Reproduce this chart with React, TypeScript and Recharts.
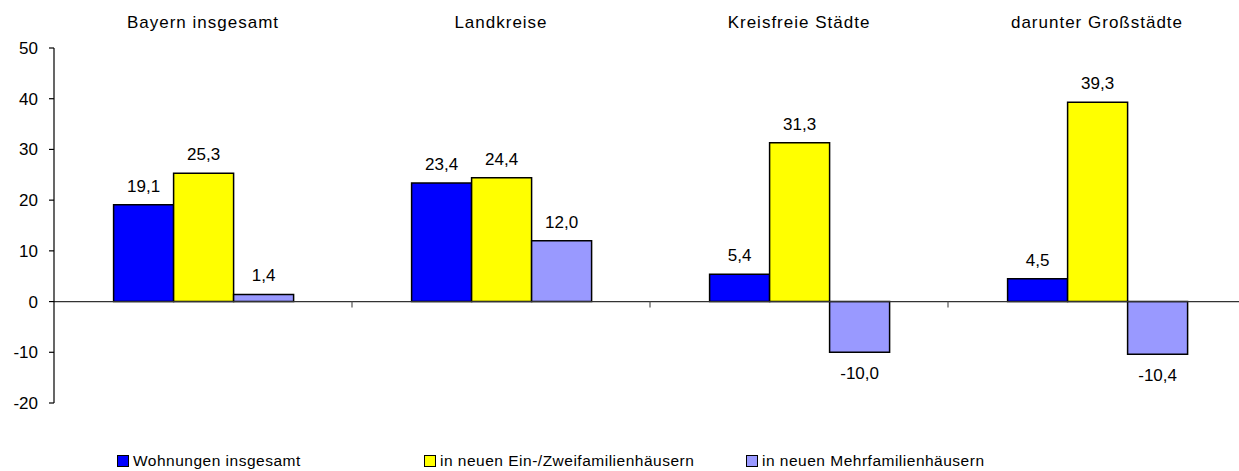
import React from 'react';
import { BarChart, Bar, XAxis, YAxis, ReferenceLine, LabelList } from 'recharts';

const categories = ['Bayern insgesamt', 'Landkreise', 'Kreisfreie Städte', 'darunter Großstädte'];
const wohnungenInsgesamt = [19.1, 23.4, 5.4, 4.5];
const einZweifamilien = [25.3, 24.4, 31.3, 39.3];
const mehrfamilien = [1.4, 12.0, -10.0, -10.4];
const yTicks = [-20, -10, 0, 10, 20, 30, 40, 50];

const seriesList = [
  { key: 'wohnungen', name: 'Wohnungen insgesamt', color: '#0000FF' },
  { key: 'einZwei', name: 'in neuen Ein-/Zweifamilienhäusern', color: '#FFFF00' },
  { key: 'mehr', name: 'in neuen Mehrfamilienhäusern', color: '#9999FF' },
];

const data = categories.map((name, i) => ({
  name,
  wohnungen: wohnungenInsgesamt[i],
  einZwei: einZweifamilien[i],
  mehr: mehrfamilien[i],
}));

const FONT = '"Liberation Sans", Arial, sans-serif';
const fmt = (v: number) => v.toFixed(1).replace('.', ',');

const ValueLabel = (props: any) => {
  const { x, y, width, height, value } = props;
  const top = Math.min(y, y + height);
  const bottom = Math.max(y, y + height);
  const ty = value >= 0 ? top - 13 : bottom + 27;
  return (
    <text x={x + width / 2} y={ty} textAnchor="middle" fontSize={17} fontFamily={FONT} fill="#000">
      {fmt(value)}
    </text>
  );
};

const ZeroLine = (props: any) => {
  const { x1, y1, x2 } = props;
  const step = (x2 - x1) / categories.length;
  return (
    <g>
      <line x1={x1} y1={y1} x2={x2} y2={y1} stroke="#333" strokeWidth={1.2} />
      {categories.slice(1).map((c, i) => (
        <line key={c} x1={x1 + step * (i + 1)} y1={y1} x2={x1 + step * (i + 1)} y2={y1 + 6} stroke="#555" strokeWidth={1.2} />
      ))}
    </g>
  );
};

export default function App() {
  return (
    <div style={{ position: 'fixed', left: 0, top: 0, width: 1239, height: 471, overflow: 'hidden', fontFamily: FONT, background: '#fff' }}>
      <BarChart
        width={1250}
        height={471}
        data={data}
        margin={{ top: 18, right: 4, bottom: 68, left: 0 }}
        barCategoryGap="20%"
        barGap={0}
      >
        <XAxis
          dataKey="name"
          orientation="top"
          height={30}
          axisLine={false}
          tickLine={false}
          tickSize={0}
          tickMargin={20}
          interval={0}
          tick={{ fontSize: 17, fill: '#000', fontFamily: FONT, letterSpacing: 1 }}
        />
        <YAxis
          domain={[-20, 50]}
          ticks={yTicks}
          width={54}
          tickSize={5}
          tickMargin={11}
          axisLine={{ stroke: '#000', strokeWidth: 1.2 }}
          tickLine={{ stroke: '#000', strokeWidth: 1.2 }}
          tick={{ fontSize: 17, fill: '#000', fontFamily: FONT }}
          allowDataOverflow
        />
        {seriesList.map((s) => (
          <Bar key={s.key} dataKey={s.key} name={s.name} fill={s.color} stroke="#000" strokeWidth={1.5} isAnimationActive={false}>
            <LabelList dataKey={s.key} content={ValueLabel} />
          </Bar>
        ))}
        <ReferenceLine y={0} shape={ZeroLine} />
      </BarChart>
      <div style={{ position: 'absolute', top: 452, left: 0, width: 1239, height: 18 }}>
        {seriesList.map((s, i) => (
          <div
            key={s.key}
            style={{
              position: 'absolute',
              left: [117, 424, 746][i],
              top: 0,
              height: 18,
              lineHeight: '18px',
              display: 'flex',
              alignItems: 'center',
              fontSize: 15.5,
              letterSpacing: 0.5,
              whiteSpace: 'nowrap',
              color: '#000',
            }}
          >
            <span style={{ display: 'inline-block', width: 10, height: 10, background: s.color, border: '1.5px solid #000', marginRight: 4 }} />
            {s.name}
          </div>
        ))}
      </div>
    </div>
  );
}
